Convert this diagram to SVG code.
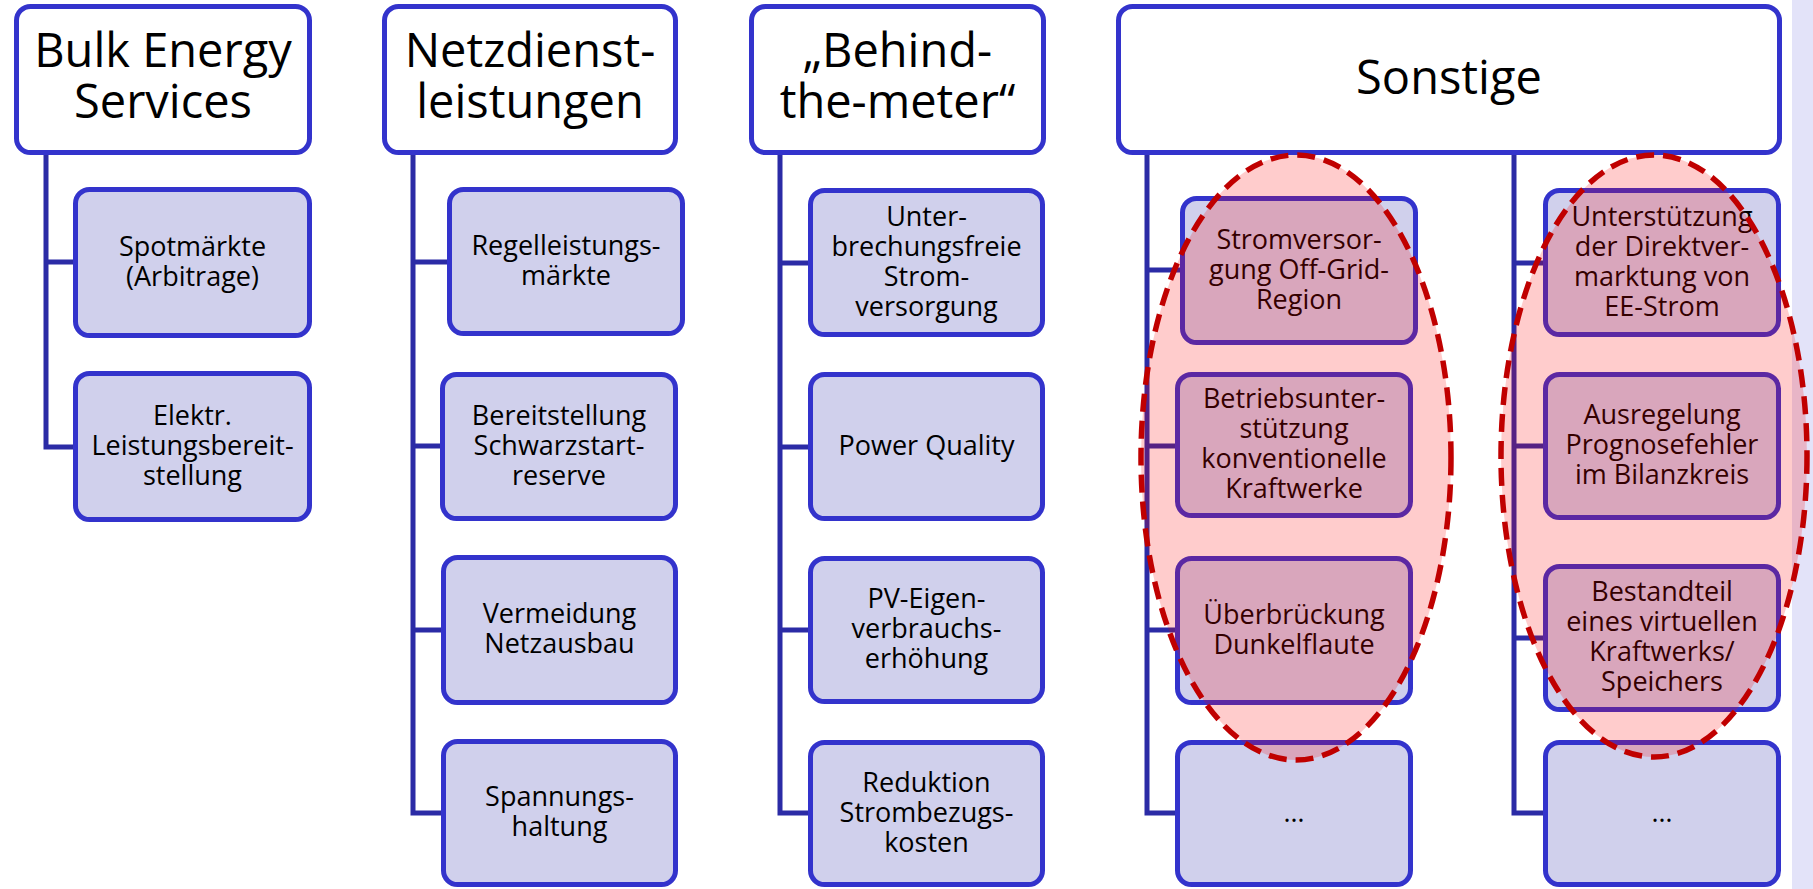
<svg xmlns="http://www.w3.org/2000/svg" width="1813" height="889" viewBox="0 0 1813 889">
<style>
.hb{fill:#FFFFFF;stroke:#3333CC;stroke-width:5}
.sb{fill:#D0D0EC;stroke:#3333CC;stroke-width:5}
.ht{font-family:"Open Sans","Noto Sans",sans-serif;font-size:47px;text-anchor:middle;fill:#000}
.st{font-family:"Open Sans","Noto Sans",sans-serif;font-size:27px;text-anchor:middle;fill:#000}
.cn{fill:none;stroke:#2B2BA6;stroke-width:5;stroke-linejoin:miter;stroke-linecap:butt}
.hl{fill:#FF0000;fill-opacity:0.2;stroke:#C00000;stroke-width:5.5;stroke-dasharray:18 9}
</style>
<rect x="0" y="0" width="1813" height="889" fill="#FFFFFF"/>
<rect x="1792" y="0" width="21" height="889" fill="#E3E3F9"/>

<g id="connectors">
<path class="cn" d="M46,155 V447 H75 M46,262 H75"/>
<path class="cn" d="M413,155 V813 H443 M413,262 H449 M413,446 H442 M413,630 H443"/>
<path class="cn" d="M780,155 V813 H810 M780,263 H810 M780,447 H810 M780,630 H810"/>
<path class="cn" d="M1147,155 V813 H1177 M1147,270 H1182 M1147,446 H1177 M1147,630 H1177"/>
<path class="cn" d="M1514,155 V813 H1545 M1514,263 H1545 M1514,446 H1545 M1514,638 H1545"/>
</g>

<g id="h-bulk"><rect class="hb" x="16.5" y="6.5" width="293" height="146" rx="14"/>
<text class="ht" x="163" y="67">Bulk Energy</text><text class="ht" x="163" y="118">Services</text></g>
<g id="h-netz"><rect class="hb" x="384.5" y="6.5" width="291" height="146" rx="14"/>
<text class="ht" x="530" y="67">Netzdienst-</text><text class="ht" x="530" y="118">leistungen</text></g>
<g id="h-btm"><rect class="hb" x="751.5" y="6.5" width="292" height="146" rx="14"/>
<text class="ht" x="897.5" y="67">„Behind-</text><text class="ht" x="897.5" y="118">the-meter“</text></g>
<g id="h-sonst"><rect class="hb" x="1118.5" y="6.5" width="661" height="146" rx="14"/>
<text class="ht" x="1449" y="94">Sonstige</text></g>

<g id="n-spot"><rect class="sb" x="75.5" y="189.5" width="234" height="146" rx="14"/>
<text class="st" x="192.5" y="255.5">Spotmärkte</text><text class="st" x="192.5" y="285.5">(Arbitrage)</text></g>
<g id="n-elektr"><rect class="sb" x="75.5" y="373.5" width="234" height="146" rx="14"/>
<text class="st" x="192.5" y="424.5">Elektr.</text><text class="st" x="192.5" y="454.5">Leistungsbereit-</text><text class="st" x="192.5" y="484.5">stellung</text></g>

<g id="n-regel"><rect class="sb" x="449.5" y="189.5" width="233" height="144" rx="14"/>
<text class="st" x="566" y="254.5">Regelleistungs-</text><text class="st" x="566" y="284.5">märkte</text></g>
<g id="n-schwarz"><rect class="sb" x="442.5" y="374.5" width="233" height="144" rx="14"/>
<text class="st" x="559" y="424.5">Bereitstellung</text><text class="st" x="559" y="454.5">Schwarzstart-</text><text class="st" x="559" y="484.5">reserve</text></g>
<g id="n-vermeid"><rect class="sb" x="443.5" y="557.5" width="232" height="145" rx="14"/>
<text class="st" x="559.5" y="623">Vermeidung</text><text class="st" x="559.5" y="653">Netzausbau</text></g>
<g id="n-spann"><rect class="sb" x="443.5" y="741.5" width="232" height="143" rx="14"/>
<text class="st" x="559.5" y="806">Spannungs-</text><text class="st" x="559.5" y="836">haltung</text></g>

<g id="n-usv"><rect class="sb" x="810.5" y="190.5" width="232" height="144" rx="14"/>
<text class="st" x="926.5" y="225.5">Unter-</text><text class="st" x="926.5" y="255.5">brechungsfreie</text><text class="st" x="926.5" y="285.5">Strom-</text><text class="st" x="926.5" y="315.5">versorgung</text></g>
<g id="n-pq"><rect class="sb" x="810.5" y="374.5" width="232" height="144" rx="14"/>
<text class="st" x="926.5" y="454.5">Power Quality</text></g>
<g id="n-pv"><rect class="sb" x="810.5" y="558.5" width="232" height="143" rx="14"/>
<text class="st" x="926.5" y="608">PV-Eigen-</text><text class="st" x="926.5" y="638">verbrauchs-</text><text class="st" x="926.5" y="668">erhöhung</text></g>
<g id="n-red"><rect class="sb" x="810.5" y="742.5" width="232" height="142" rx="14"/>
<text class="st" x="926.5" y="791.5">Reduktion</text><text class="st" x="926.5" y="821.5">Strombezugs-</text><text class="st" x="926.5" y="851.5">kosten</text></g>

<g id="n-offgrid"><rect class="sb" x="1182.5" y="198.5" width="233" height="144" rx="14"/>
<text class="st" x="1299" y="248.5">Stromversor-</text><text class="st" x="1299" y="278.5">gung Off-Grid-</text><text class="st" x="1299" y="308.5">Region</text></g>
<g id="n-betrieb"><rect class="sb" x="1177.5" y="374.5" width="233" height="141" rx="14"/>
<text class="st" x="1294" y="408">Betriebsunter-</text><text class="st" x="1294" y="438">stützung</text><text class="st" x="1294" y="468">konventionelle</text><text class="st" x="1294" y="498">Kraftwerke</text></g>
<g id="n-dunkel"><rect class="sb" x="1177.5" y="558.5" width="233" height="144" rx="14"/>
<text class="st" x="1294" y="623.5">Überbrückung</text><text class="st" x="1294" y="653.5">Dunkelflaute</text></g>
<g id="n-etc1"><rect class="sb" x="1177.5" y="742.5" width="233" height="142" rx="14"/>
<text class="st" x="1294" y="821.5">…</text></g>

<g id="n-direkt"><rect class="sb" x="1545.5" y="190.5" width="233" height="144" rx="14"/>
<text class="st" x="1662" y="225.5">Unterstützung</text><text class="st" x="1662" y="255.5">der Direktver-</text><text class="st" x="1662" y="285.5">marktung von</text><text class="st" x="1662" y="315.5">EE-Strom</text></g>
<g id="n-prognose"><rect class="sb" x="1545.5" y="374.5" width="233" height="143" rx="14"/>
<text class="st" x="1662" y="424">Ausregelung</text><text class="st" x="1662" y="454">Prognosefehler</text><text class="st" x="1662" y="484">im Bilanzkreis</text></g>
<g id="n-vkw"><rect class="sb" x="1545.5" y="566.5" width="233" height="143" rx="14"/>
<text class="st" x="1662" y="601">Bestandteil</text><text class="st" x="1662" y="631">eines virtuellen</text><text class="st" x="1662" y="661">Kraftwerks/</text><text class="st" x="1662" y="691">Speichers</text></g>
<g id="n-etc2"><rect class="sb" x="1545.5" y="742.5" width="233" height="142" rx="14"/>
<text class="st" x="1662" y="821.5">…</text></g>

<g id="highlights">
<ellipse class="hl" cx="1296" cy="457.5" rx="155" ry="302.5"/>
<ellipse class="hl" cx="1654" cy="456" rx="153" ry="301"/>
</g>
</svg>
